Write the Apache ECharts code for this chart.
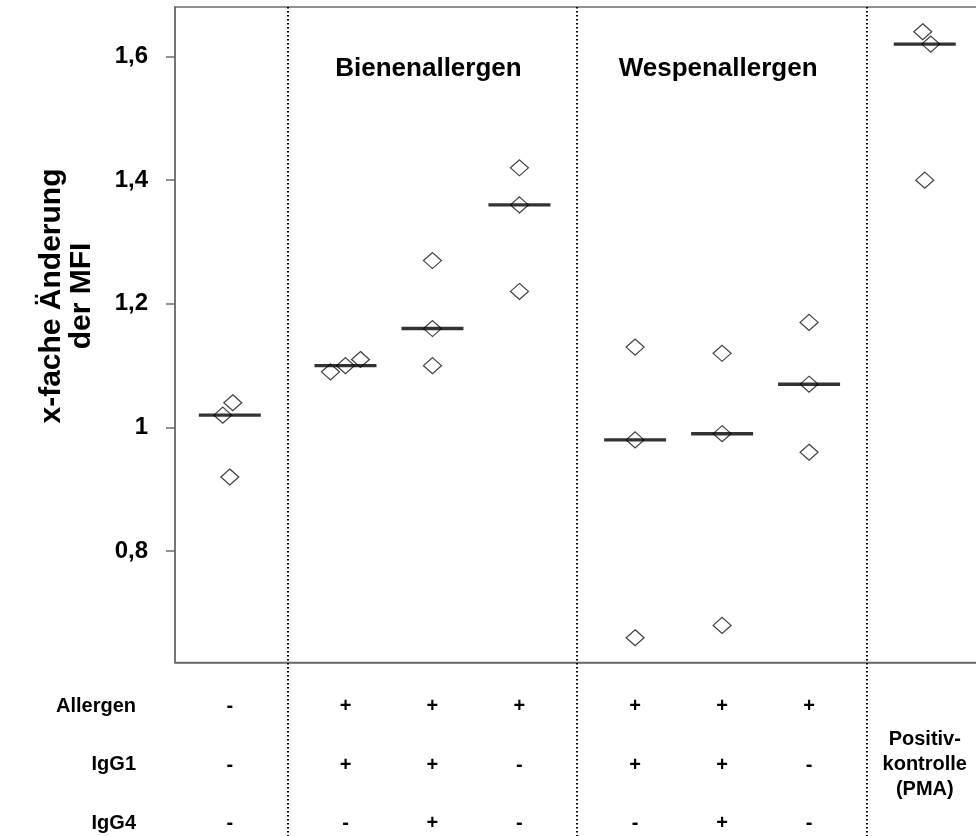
<!DOCTYPE html>
<html>
<head>
<meta charset="utf-8">
<script src="https://cdn.jsdelivr.net/npm/echarts@6/dist/echarts.min.js"></script>
<style>
  html, body { margin: 0; padding: 0; background: #fff; }
  #chart { width: 976px; height: 836px; }
</style>
</head>
<body>
<div id="chart"></div>
<script>
// columns and their group (0 = Kontrolle, 1 = Biene, 2 = Wespe, 3 = PMA)
const columns = ['Kontrolle', 'Biene 1', 'Biene 2', 'Biene 3', 'Wespe 1', 'Wespe 2', 'Wespe 3', 'PMA']
const columnGroup = [0, 1, 1, 1, 2, 2, 2, 3]
const groupTitles = ['', 'Bienenallergen', 'Wespenallergen', '']
const rowNames = ['Allergen', 'IgG1', 'IgG4']
const allergenRow = ['-', '+', '+', '+', '+', '+', '+', '']
const igg1Row = ['-', '+', '+', '-', '+', '+', '-', '']
const igg4Row = ['-', '-', '+', '-', '-', '+', '-', '']
const pmaLabel = ['Positiv-', 'kontrolle', '(PMA)']
const values = [
  [1.04, 1.02, 0.92],
  [1.09, 1.10, 1.11],
  [1.27, 1.16, 1.10],
  [1.42, 1.36, 1.22],
  [1.13, 0.98, 0.66],
  [1.12, 0.99, 0.68],
  [1.17, 1.07, 0.96],
  [1.64, 1.62, 1.40]
]
const yTicks = [0.8, 1.0, 1.2, 1.4, 1.6]

// layout only: gap between groups (axis units) and horizontal jitter of points (px)
const GROUP_GAP = 0.33
const jitter = [[3, -7, 0], [-15, 0, 15], [0, 0, 0], [0, 0, 0], [0, 0, 0], [0, 0, 0], [0, 0, 0], [-2, 6, 0]]
const FONT = 'Liberation Sans, Arial, sans-serif'

const positions = columns.map((c, i) => i + columnGroup[i] * GROUP_GAP)

function median(arr) {
  const s = arr.slice().sort((a, b) => a - b)
  return s[Math.floor(s.length / 2)]
}

let pointData = [], medianData = []
values.forEach((vals, i) => {
  vals.forEach((v, j) => {
    pointData.push({ value: [positions[i], v], symbolOffset: [jitter[i][j], 0] })
  })
  medianData.push([positions[i], median(vals)])
})

function colLabel(v) {
  const i = positions.findIndex(p => Math.abs(p - v) < 1e-6)
  if (i < 0) return ''
  if (!allergenRow[i]) {
    return '{e| }\n' + pmaLabel.map(t => `{p|${t}}`).join('\n')
  }
  return [allergenRow[i], igg1Row[i], igg4Row[i]].map(t => `{r|${t}}`).join('\n')
}

const chart = echarts.init(document.getElementById('chart'))
const option = {
  animation: false,
  backgroundColor: '#fff',
  grid: {
    left: 175,
    top: 7,
    width: 815,
    height: 655.5,
    show: true,
    borderColor: '#6b6b6b',
    borderWidth: 1.5,
    outerBoundsMode: 'none'
  },
  xAxis: {
    type: 'value',
    min: -0.63,
    max: 8.74,
    splitLine: { show: false },
    axisLine: { show: true, onZero: false, lineStyle: { color: '#6b6b6b', width: 1.5 } },
    axisTick: { show: false },
    axisLabel: {
      customValues: positions,
      margin: 15,
      color: '#000',
      formatter: colLabel,
      rich: {
        r: { fontSize: 20, fontWeight: 'bold', fontFamily: FONT, color: '#000', lineHeight: 58.5, align: 'center' },
        e: { fontSize: 20, lineHeight: 49.5 },
        p: { fontSize: 20, fontWeight: 'bold', fontFamily: FONT, color: '#000', lineHeight: 25, align: 'center' }
      }
    }
  },
  yAxis: {
    type: 'value',
    min: 0.62,
    max: 1.68,
    splitLine: { show: false },
    axisLine: { show: true, onZero: false, lineStyle: { color: '#6b6b6b', width: 1.5 } },
    axisTick: { show: true, customValues: yTicks, length: 9, lineStyle: { color: '#6b6b6b', width: 1.5 } },
    axisLabel: {
      customValues: yTicks,
      margin: 27,
      fontSize: 24,
      fontWeight: 'bold',
      fontFamily: FONT,
      color: '#000',
      formatter: v => String(+(+v).toFixed(1)).replace('.', ',')
    }
  },
  series: [
    {
      name: 'Messwerte',
      type: 'scatter',
      symbol: 'diamond',
      symbolSize: [18, 16],
      itemStyle: { color: 'rgba(255,255,255,0)', borderColor: '#111', borderWidth: 1.2 },
      data: pointData,
      z: 2
    },
    {
      name: 'Median',
      type: 'scatter',
      symbol: 'rect',
      symbolSize: [62, 3.4],
      itemStyle: { color: '#000' },
      data: medianData,
      z: 3
    }
  ]
}
chart.setOption(option)

// separators, group titles and side texts
const graphics = []
for (let i = 1; i < columns.length; i++) {
  if (columnGroup[i] !== columnGroup[i - 1]) {
    const x = Math.round(chart.convertToPixel({ xAxisIndex: 0 }, (positions[i] + positions[i - 1]) / 2))
    graphics.push({
      type: 'line',
      shape: { x1: x, y1: 7, x2: x, y2: 836 },
      style: { stroke: '#000', lineWidth: 2, lineDash: [1.5, 2.5] },
      z: 1
    })
  }
}
groupTitles.forEach((t, g) => {
  if (!t) return
  const ps = positions.filter((p, i) => columnGroup[i] === g)
  const cx = chart.convertToPixel({ xAxisIndex: 0 }, ps.reduce((a, b) => a + b, 0) / ps.length)
  graphics.push({
    type: 'text',
    x: cx - 4,
    y: 69,
    style: { text: t, fontSize: 26, fontWeight: 'bold', fontFamily: FONT, fill: '#000', align: 'center', verticalAlign: 'middle' }
  })
})
rowNames.forEach((t, k) => {
  graphics.push({
    type: 'text',
    x: 136,
    y: 706 + k * 58.5,
    style: { text: t, fontSize: 20, fontWeight: 'bold', fontFamily: FONT, fill: '#000', align: 'right', verticalAlign: 'middle' }
  })
})
graphics.push({
  type: 'text',
  x: 67,
  y: 296,
  rotation: Math.PI / 2,
  style: {
    text: 'x-fache Änderung\nder MFI',
    fontSize: 30,
    fontWeight: 'bold',
    fontFamily: FONT,
    lineHeight: 30,
    fill: '#000',
    align: 'center',
    verticalAlign: 'middle'
  }
})
chart.setOption({ graphic: graphics })

window.addEventListener('resize', () => chart.resize())
</script>
</body>
</html>
